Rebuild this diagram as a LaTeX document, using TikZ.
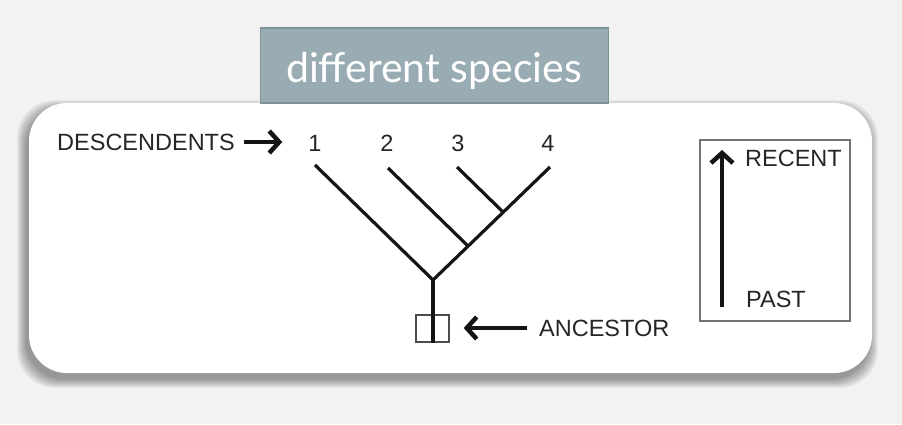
\documentclass[tikz,border=0pt]{standalone}
\usepackage{fontspec}
\usepackage{xcolor}
\newfontfamily\labelfont{Liberation Sans}
\newfontfamily\titlefont{Lato}
\definecolor{pagegray}{HTML}{F2F2F2}
\definecolor{titlefill}{HTML}{9AACB3}
\definecolor{titleline}{HTML}{7C9299}
\definecolor{inkgray}{HTML}{262626}
\usetikzlibrary{arrows.meta,calc,positioning}

\begin{document}
\begin{tikzpicture}[x=1pt,y=-1pt]
		\tikzset{
		    caption/.style={font=\labelfont\fontsize{23.5}{25}\selectfont,text=inkgray,inner sep=0pt},
		    branch/.style={line width=3.2pt,draw=black!92},
		    pointer/.style={line width=4pt,draw=black!92,-{Straight Barb[length=10pt,width=22pt,line width=4.5pt]}},
		    panel/.style={fill=white,rounded corners=38pt,minimum width=843pt,minimum height=270pt,inner sep=0pt}
		}

		% background and frame
		\fill[pagegray] (0,0) rectangle (902,424);
		\foreach \e in {0,...,9}
		    \fill[black,opacity=0.045,rounded corners=38pt] (29-3-\e,103+6-\e) rectangle (872-3+\e,373+6+\e);
		\node[panel] (panel) at (450.5,238) {};
		\node[fill=titlefill,draw=titleline,line width=1.2pt,minimum width=348pt,minimum height=75pt] (titlebox) at (434.5,65.5) {};
		\node[anchor=base,font=\titlefont\fontsize{41}{45}\selectfont,text=white,inner sep=0pt] (title) at (434,82) {different species};

		% labels
		\node[caption,anchor=west] (desc) at (57,142) {DESCENDENTS};
		\node[caption] (n1) at (315,143) {1};
		\node[caption] (n2) at (387,143) {2};
		\node[caption] (n3) at (458,143) {3};
		\node[caption] (n4) at (548,143) {4};
		\node[caption,anchor=west] (anc) at (539,328) {ANCESTOR};

		% tree
		\coordinate (t1) at (315,165);
		\coordinate (t2) at (388,168);
		\coordinate (t3) at (457,167);
		\coordinate (t4) at (550,167);
		\coordinate (root) at (433,280);
		\coordinate (j2) at ($(root)!0.30!(t4)$);
		\coordinate (j3) at ($(root)!0.60!(t4)$);
		\node[draw=black!70,line width=1.3pt,minimum width=33pt,minimum height=27pt,inner sep=0pt] (rootbox) at (432.5,328.5) {};
		\draw[branch] (t1) -- (root) -- (t4);
		\draw[branch] (t2) -- (j2);
		\draw[branch] (t3) -- (j3);
		\draw[branch] (root) -- (rootbox.south -| root);

		%arrows
		\draw[pointer,shorten <=9pt,shorten >=26pt] (desc.east) -- (n1.west |- desc.east);
		\draw[pointer,shorten <=12pt,shorten >=14pt] (anc.west) -- (rootbox.east |- anc.west);

		% time scale
		\node[draw=black!55,line width=2pt,minimum width=150pt,minimum height=181pt,inner sep=0pt] (timebox) at (775,230.5) {};
		\node[caption,anchor=west] (recent) at (745,158) {RECENT};
		\node[caption,anchor=west] (past) at (746,299) {PAST};
		\coordinate (pastend) at (722,307);
		\coordinate (recentend) at (722,150);
		\draw[pointer,line width=3.5pt] (pastend) -- (recentend);

	\end{tikzpicture}
\end{document}
